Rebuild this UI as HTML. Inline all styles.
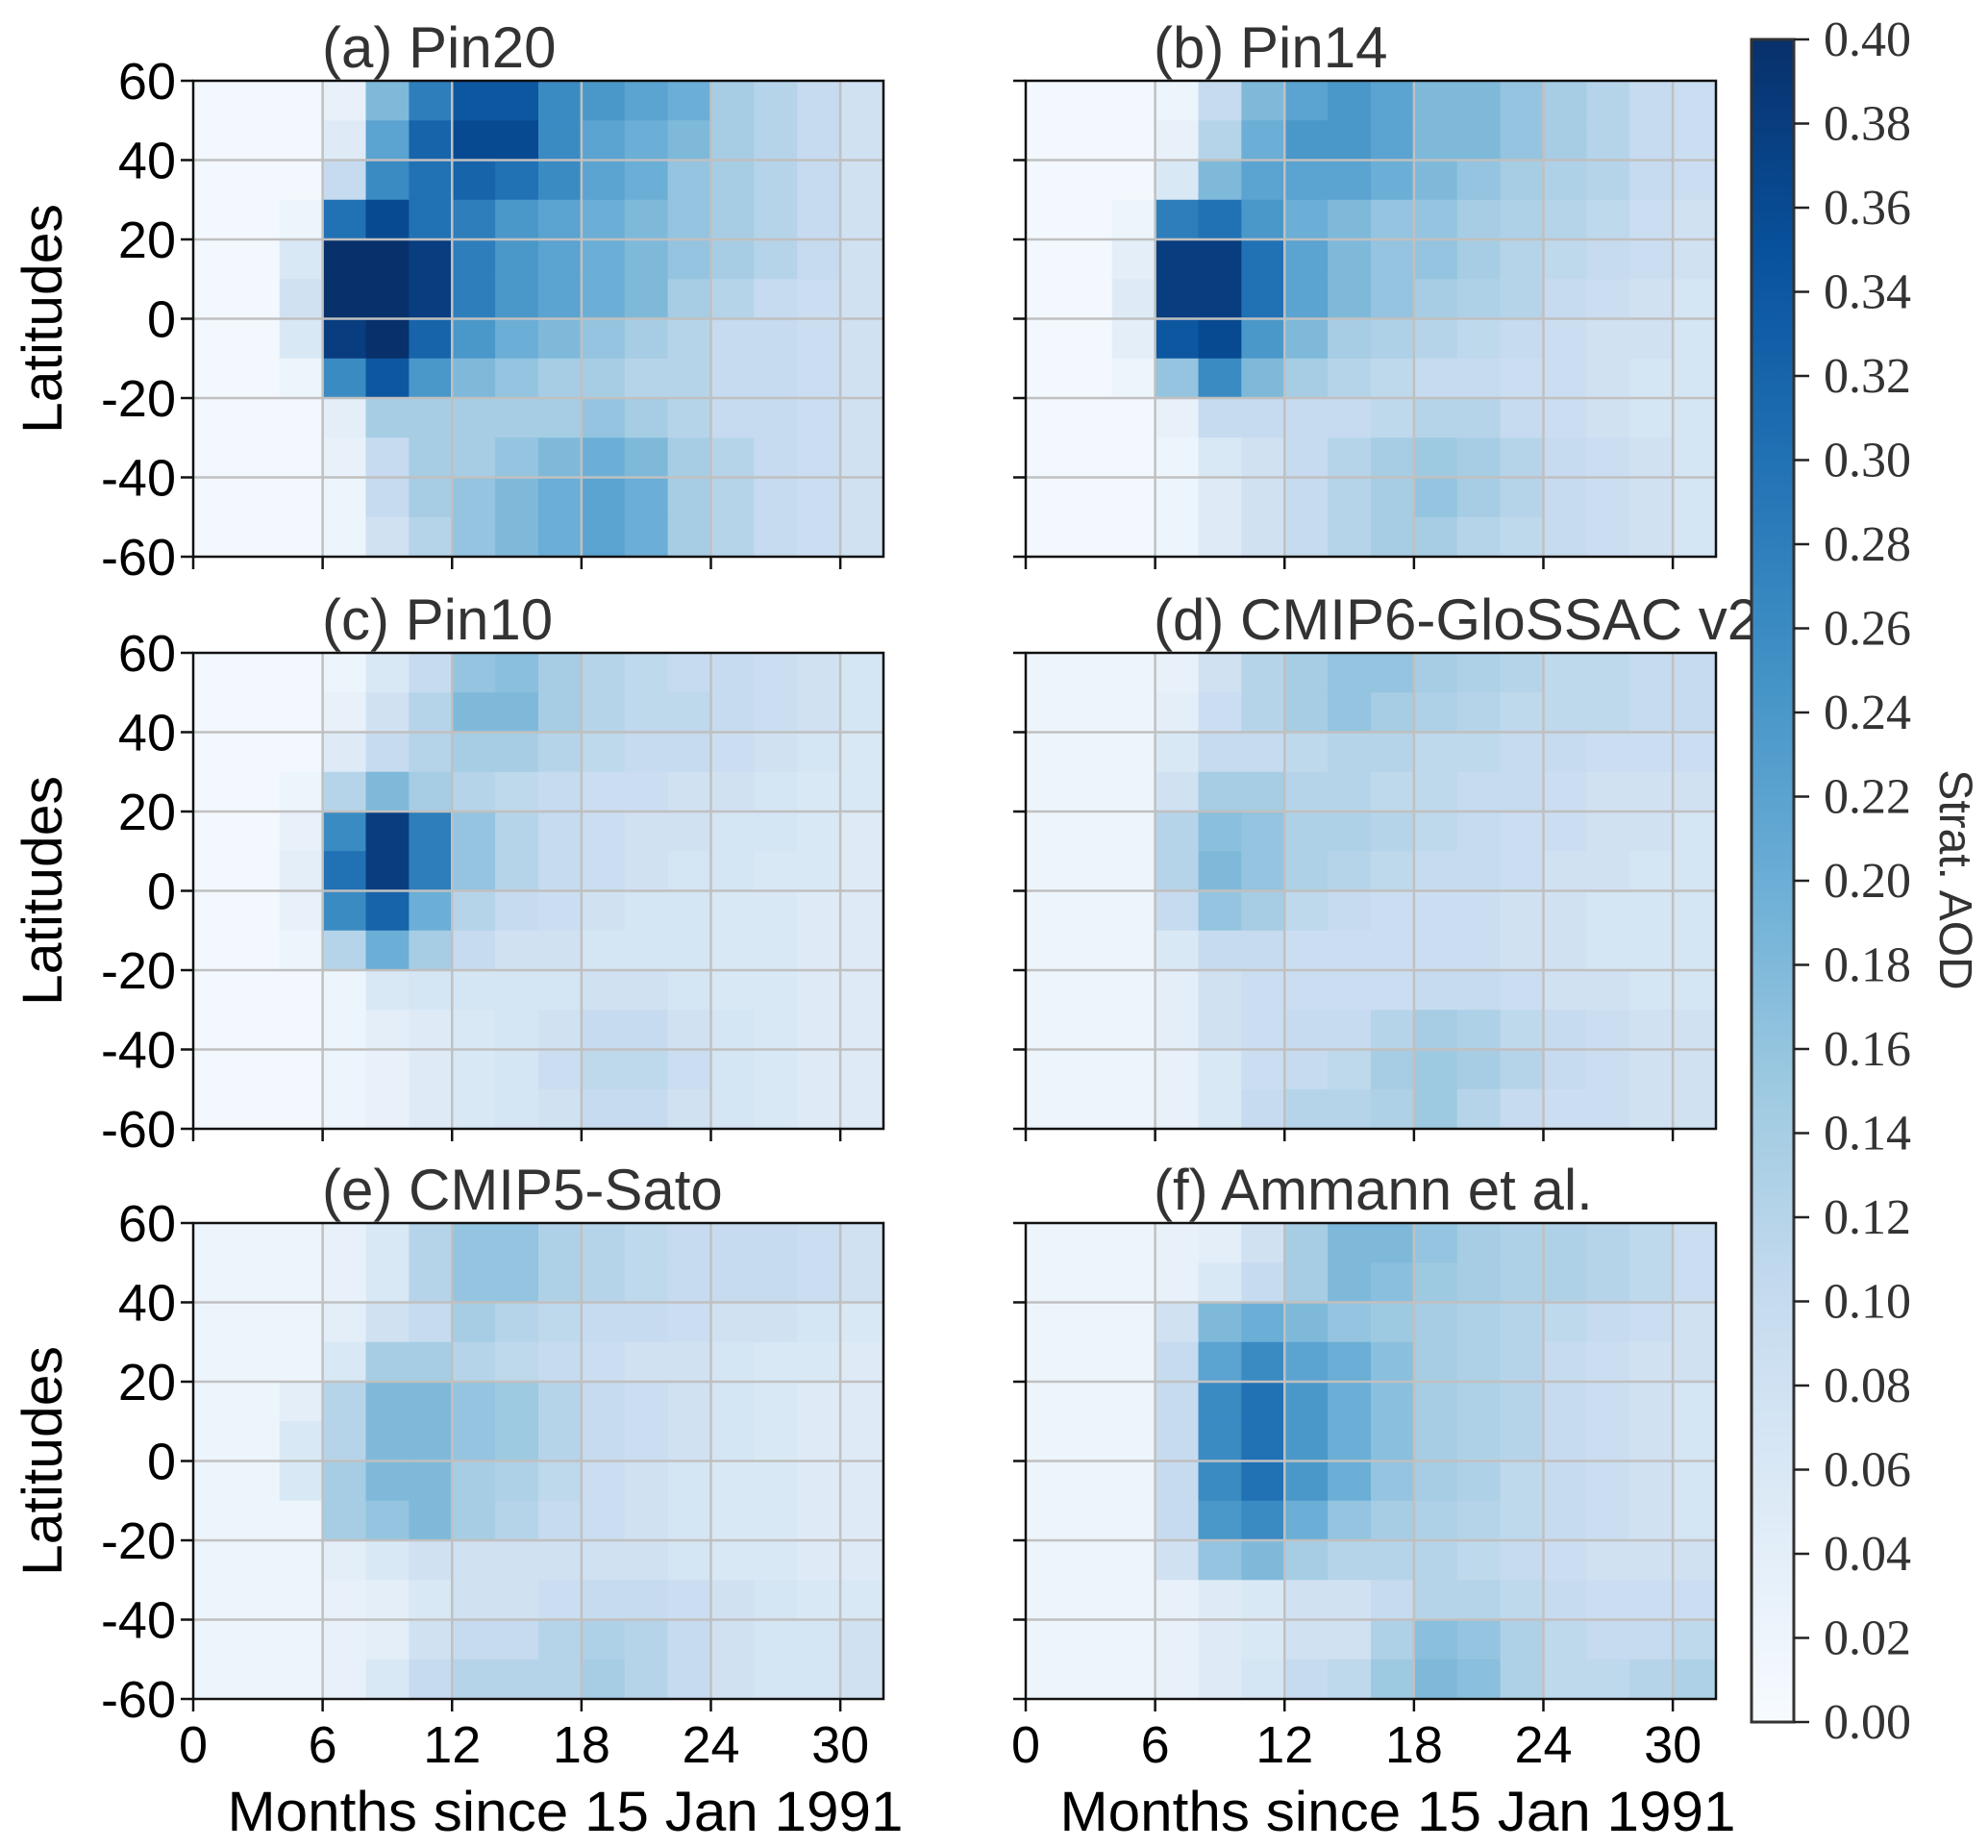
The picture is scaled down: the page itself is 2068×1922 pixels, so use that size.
<!DOCTYPE html>
<html><head><meta charset="utf-8">
<style>
html,body{margin:0;padding:0;background:#fff;}
svg{display:block;}
</style></head>
<body>
<svg id="fig" width="2068" height="1922" viewBox="0 0 2068 1922" xmlns="http://www.w3.org/2000/svg">
<rect width="2068" height="1922" fill="#fff"/>
<g id="panels"></g>
<g id="cbar"></g>
</svg>
<script>
// ---- data (AOD x100), columns = 2-month bins 0..32, rows = 10-degree bins from 60N to 60S ----
const monthEdges = [0,2,4,6,8,10,12,14,16,18,20,22,24,26,28,30,32];
const latEdges = [60,50,40,30,20,10,0,-10,-20,-30,-40,-50,-60];
const xTicks = [0,6,12,18,24,30];
const yTicks = [60,40,20,0,-20,-40,-60];
const cbTicks = [0,0.02,0.04,0.06,0.08,0.10,0.12,0.14,0.16,0.18,0.20,0.22,0.24,0.26,0.28,0.30,0.32,0.34,0.36,0.38,0.40];
const titles = ["(a) Pin20","(b) Pin14","(c) Pin10","(d) CMIP6-GloSSAC v2","(e) CMIP5-Sato","(f) Ammann et al."];

const pin20 = [
[1,1,1,1,1,1,1,1,1,1,1,1],
[1,1,1,1,1,1,1,1,1,1,1,1],
[1,1,1,2,6,8,6,2,1,1,1,1],
[3,5,10,30,40,40,38,26,4,3,2,2],
[18,22,26,36,40,40,40,34,14,10,10,8],
[28,32,30,30,38,38,32,24,14,14,14,12],
[34,36,32,28,28,28,24,18,14,14,16,16],
[34,36,30,24,24,24,20,16,14,16,18,18],
[26,26,26,22,22,22,18,14,14,18,20,20],
[24,22,22,20,20,20,16,14,16,20,22,22],
[22,20,20,18,18,18,14,12,14,18,20,20],
[20,18,16,16,16,14,12,12,12,14,14,14],
[14,14,14,14,14,12,10,10,10,12,12,12],
[12,12,12,12,12,10,10,10,10,10,10,10],
[10,10,10,10,10,9,9,9,9,9,9,9],
[8,8,8,8,8,8,8,8,8,8,8,8]];
const pin14 = [
[1,1,1,1,1,1,1,1,1,1,1,1],
[1,1,1,1,1,1,1,1,1,1,1,1],
[1,1,1,2,4,5,4,2,1,1,1,1],
[2,3,6,28,38,38,34,16,3,2,2,2],
[10,12,18,30,38,38,36,26,10,6,5,5],
[18,20,22,24,30,30,24,18,10,8,8,8],
[22,24,22,20,22,22,18,14,10,10,10,10],
[24,24,22,18,18,18,14,12,10,12,12,12],
[22,22,20,16,16,16,13,11,11,14,14,14],
[18,18,18,16,16,14,12,10,12,15,16,14],
[18,18,16,14,14,13,11,10,12,14,14,12],
[16,16,14,13,12,12,10,9,10,12,12,11],
[14,14,13,12,11,10,9,9,9,10,10,10],
[12,12,12,11,10,9,8,8,8,9,9,9],
[10,10,10,9,9,8,8,7,7,8,8,8],
[9,9,9,8,8,7,7,7,7,7,7,7]];
const pin10 = [
[1,1,1,1,1,1,1,1,1,1,1,1],
[1,1,1,1,1,1,1,1,1,1,1,1],
[1,1,1,2,3,4,3,2,1,1,1,1],
[2,3,5,12,26,30,26,12,2,2,2,2],
[6,8,10,18,38,38,32,20,6,4,3,3],
[10,12,12,14,28,28,20,14,7,5,5,5],
[16,18,14,12,16,16,12,10,7,6,6,6],
[17,18,14,11,12,12,10,8,7,7,7,7],
[14,14,12,10,10,10,9,8,7,8,9,8],
[12,12,11,9,9,9,8,7,8,10,11,10],
[11,11,10,9,8,8,7,7,8,10,11,10],
[10,11,10,8,8,7,7,7,7,8,9,8],
[10,10,9,8,7,7,6,6,6,7,7,7],
[9,9,8,7,7,6,6,6,6,6,6,6],
[8,8,7,6,6,6,5,5,5,5,5,5],
[7,7,6,6,5,5,5,5,5,5,5,5]];
const glossac = [
[2,2,2,2,2,2,2,2,2,2,2,2],
[2,2,2,2,2,2,2,2,2,2,2,2],
[2,2,2,2,2,2,2,2,2,2,2,2],
[3,4,6,8,12,12,10,6,4,4,3,3],
[8,9,10,14,17,18,16,10,8,8,6,6],
[12,12,10,14,16,16,14,10,9,9,9,10],
[14,14,11,12,13,13,11,9,9,10,10,12],
[16,16,12,12,13,12,10,9,9,10,11,12],
[16,14,12,11,12,11,9,9,9,12,14,13],
[14,13,11,11,11,10,9,9,10,14,15,15],
[13,12,11,10,10,10,9,9,10,13,14,12],
[12,11,10,10,9,9,8,8,9,11,12,10],
[11,11,10,9,9,8,8,8,8,10,10,9],
[11,11,9,8,8,8,7,7,8,9,9,9],
[10,10,9,8,8,7,7,7,7,8,8,8],
[10,10,9,8,7,7,7,7,7,8,8,8]];
const sato = [
[2,2,2,2,2,2,2,2,2,2,2,2],
[2,2,2,2,2,2,2,2,2,2,2,2],
[2,2,2,2,4,6,6,2,2,2,2,2],
[3,3,4,6,12,12,14,14,4,3,3,3],
[6,6,8,14,18,18,18,16,6,4,4,6],
[12,12,10,14,18,18,18,18,8,6,8,10],
[16,16,14,12,16,16,14,14,8,8,10,12],
[16,16,12,11,15,15,13,12,8,8,10,12],
[13,13,11,10,12,12,11,10,8,9,12,12],
[12,12,10,9,10,10,9,9,8,10,13,14],
[11,11,10,8,9,9,8,8,8,10,12,12],
[10,10,9,8,8,8,7,7,7,9,10,10],
[10,10,8,7,7,7,6,6,6,8,8,8],
[10,10,8,6,6,6,6,6,6,7,7,7],
[9,9,7,6,5,5,5,5,5,6,7,7],
[8,8,6,5,5,5,5,5,5,6,8,8]];
const ammann = [
[2,2,2,2,2,2,2,2,2,2,2,2],
[2,2,2,2,2,2,2,2,2,2,2,2],
[2,2,2,2,2,2,2,2,2,2,2,2],
[3,3,8,10,10,10,10,10,8,3,3,3],
[4,6,18,22,26,26,26,24,16,5,5,5],
[8,10,20,26,30,30,30,26,18,6,6,7],
[14,14,18,22,24,24,24,20,14,8,8,10],
[18,18,16,20,20,20,20,16,12,8,8,11],
[18,17,15,17,17,17,16,14,12,10,13,15],
[16,15,14,14,14,14,14,13,12,12,17,18],
[14,14,13,13,13,13,13,12,11,12,16,17],
[13,13,12,12,12,12,11,11,10,11,13,13],
[13,13,11,10,10,10,10,10,9,10,11,11],
[12,12,10,9,9,9,9,9,8,9,10,11],
[11,11,9,8,8,8,8,8,8,9,10,12],
[9,9,8,8,7,7,7,7,8,9,11,13]];
const datasets = [pin20,pin14,pin10,glossac,sato,ammann];

const NS="http://www.w3.org/2000/svg";
function mk(tag,attrs,parent){const e=document.createElementNS(NS,tag);for(const k in attrs)e.setAttribute(k,attrs[k]);if(parent)parent.appendChild(e);return e;}

const stops=["#f7fbff","#deebf7","#c6dbef","#9ecae1","#6baed6","#4292c6","#2171b5","#08519c","#08306b"];
function hex(c){return [parseInt(c.slice(1,3),16),parseInt(c.slice(3,5),16),parseInt(c.slice(5,7),16)];}
function cmap(v){let t=Math.max(0,Math.min(1,v/0.40))*(stops.length-1);let i=Math.min(stops.length-2,Math.floor(t));let f=t-i;const a=hex(stops[i]),b=hex(stops[i+1]);return "rgb("+a.map((x,k)=>Math.round(x+(b[k]-x)*f)).join(",")+")";}

const colX=[201,1067], colW=718;
const rowY=[84,679,1272], rowH=495;
const panels=document.getElementById('panels');

datasets.forEach((data,p)=>{
  const col=p%2,row=Math.floor(p/2);
  const x0=colX[col],y0=rowY[row];
  const xs=m=>x0+m/32*colW;
  const ys=l=>y0+(60-l)/120*rowH;
  const g=mk('g',{},panels);
  
  
  data.forEach((colv,i)=>{
    colv.forEach((v,j)=>{
      const r=mk('rect',{x:xs(monthEdges[i]),y:ys(latEdges[j]),width:xs(monthEdges[i+1])-xs(monthEdges[i])+0.6,height:ys(latEdges[j+1])-ys(latEdges[j])+0.6,fill:cmap(v/100)},g);
      
      
    });
  });
  xTicks.forEach(t=>{ if(t>0){const l=mk('line',{x1:xs(t),x2:xs(t),y1:y0,y2:y0+rowH,stroke:'#c0c0c0','stroke-width':2.5},g);}});
  yTicks.forEach(t=>{ if(t<60&&t>-60){const l=mk('line',{x1:x0,x2:x0+colW,y1:ys(t),y2:ys(t),stroke:'#c0c0c0','stroke-width':2.5},g);}});
  const fr=mk('rect',{x:x0,y:y0,width:colW,height:rowH,fill:'none',stroke:'#111','stroke-width':2.5},g);
  
  
  xTicks.forEach(t=>{
    const l=mk('line',{x1:xs(t),x2:xs(t),y1:y0+rowH,y2:y0+rowH+13,stroke:'#111','stroke-width':2.5},g);
    
    
    if(row===2){
      const tx=mk('text',{x:xs(t),y:y0+rowH+66,'text-anchor':'middle','font-size':54,'font-family':'Liberation Sans, sans-serif',fill:'#000'},g);
      tx.textContent=t;
      
      
    }
  });
  yTicks.forEach(t=>{
    const l=mk('line',{x1:x0-13,x2:x0,y1:ys(t),y2:ys(t),stroke:'#111','stroke-width':2.5},g);
    
    
    if(col===0){
      const tx=mk('text',{x:x0-18,y:ys(t)+19,'text-anchor':'end','font-size':54,'font-family':'Liberation Sans, sans-serif',fill:'#000'},g);
      tx.textContent=t;
      
      
    }
  });
  const ti=mk('text',{x:(col===0?335:1200),y:y0-14,'font-size':60,'font-family':'Liberation Sans, sans-serif',fill:'#333'},g);
  ti.textContent=titles[p];
  
  
  if(col===0){
    const yl=mk('text',{x:0,y:0,transform:'translate(64,'+(y0+rowH/2)+') rotate(-90)','text-anchor':'middle','font-size':58,'font-family':'Liberation Sans, sans-serif',fill:'#000',textLength:239,lengthAdjust:'spacingAndGlyphs'},g);
    yl.textContent='Latitudes';
    
    
  }
  if(row===2){
    const xl=mk('text',{x:x0+colW/2+28,y:1904,'text-anchor':'middle','font-size':58,'font-family':'Liberation Sans, sans-serif',fill:'#000',textLength:703,lengthAdjust:'spacingAndGlyphs'},g);
    xl.textContent='Months since 15 Jan 1991';
    
    
  }
});

const cb=document.getElementById('cbar');
const cbX=1822,cbW=44,cbTop=41,cbBot=1791;
const cv=v=>cbBot-(v/0.40)*(cbBot-cbTop);
const defs=mk('defs',{},cb);
const lg=mk('linearGradient',{id:'cbg',x1:0,y1:1,x2:0,y2:0},defs);
stops.forEach((c,i)=>mk('stop',{offset:i/(stops.length-1),'stop-color':c},lg));
const cbr=mk('rect',{x:cbX,y:cbTop,width:cbW,height:cbBot-cbTop,fill:'url(#cbg)',stroke:'#333','stroke-width':3},cb);


cbTicks.forEach(t=>{
  const l=mk('line',{x1:cbX+cbW,x2:cbX+cbW+16,y1:cv(t),y2:cv(t),stroke:'#222','stroke-width':2.5},cb);
  
  
  const tx=mk('text',{x:1897,y:cv(t)+17,'font-size':52,'font-family':'Liberation Serif, serif',fill:'#333'},cb);
  tx.textContent=t.toFixed(2);
  
  
});
const cl=mk('text',{x:0,y:0,transform:'translate(2018,915) rotate(90)','text-anchor':'middle','font-size':48,'font-family':'Liberation Sans, sans-serif',fill:'#333'},cb);
cl.textContent='Strat. AOD';


</script>
</body></html>
